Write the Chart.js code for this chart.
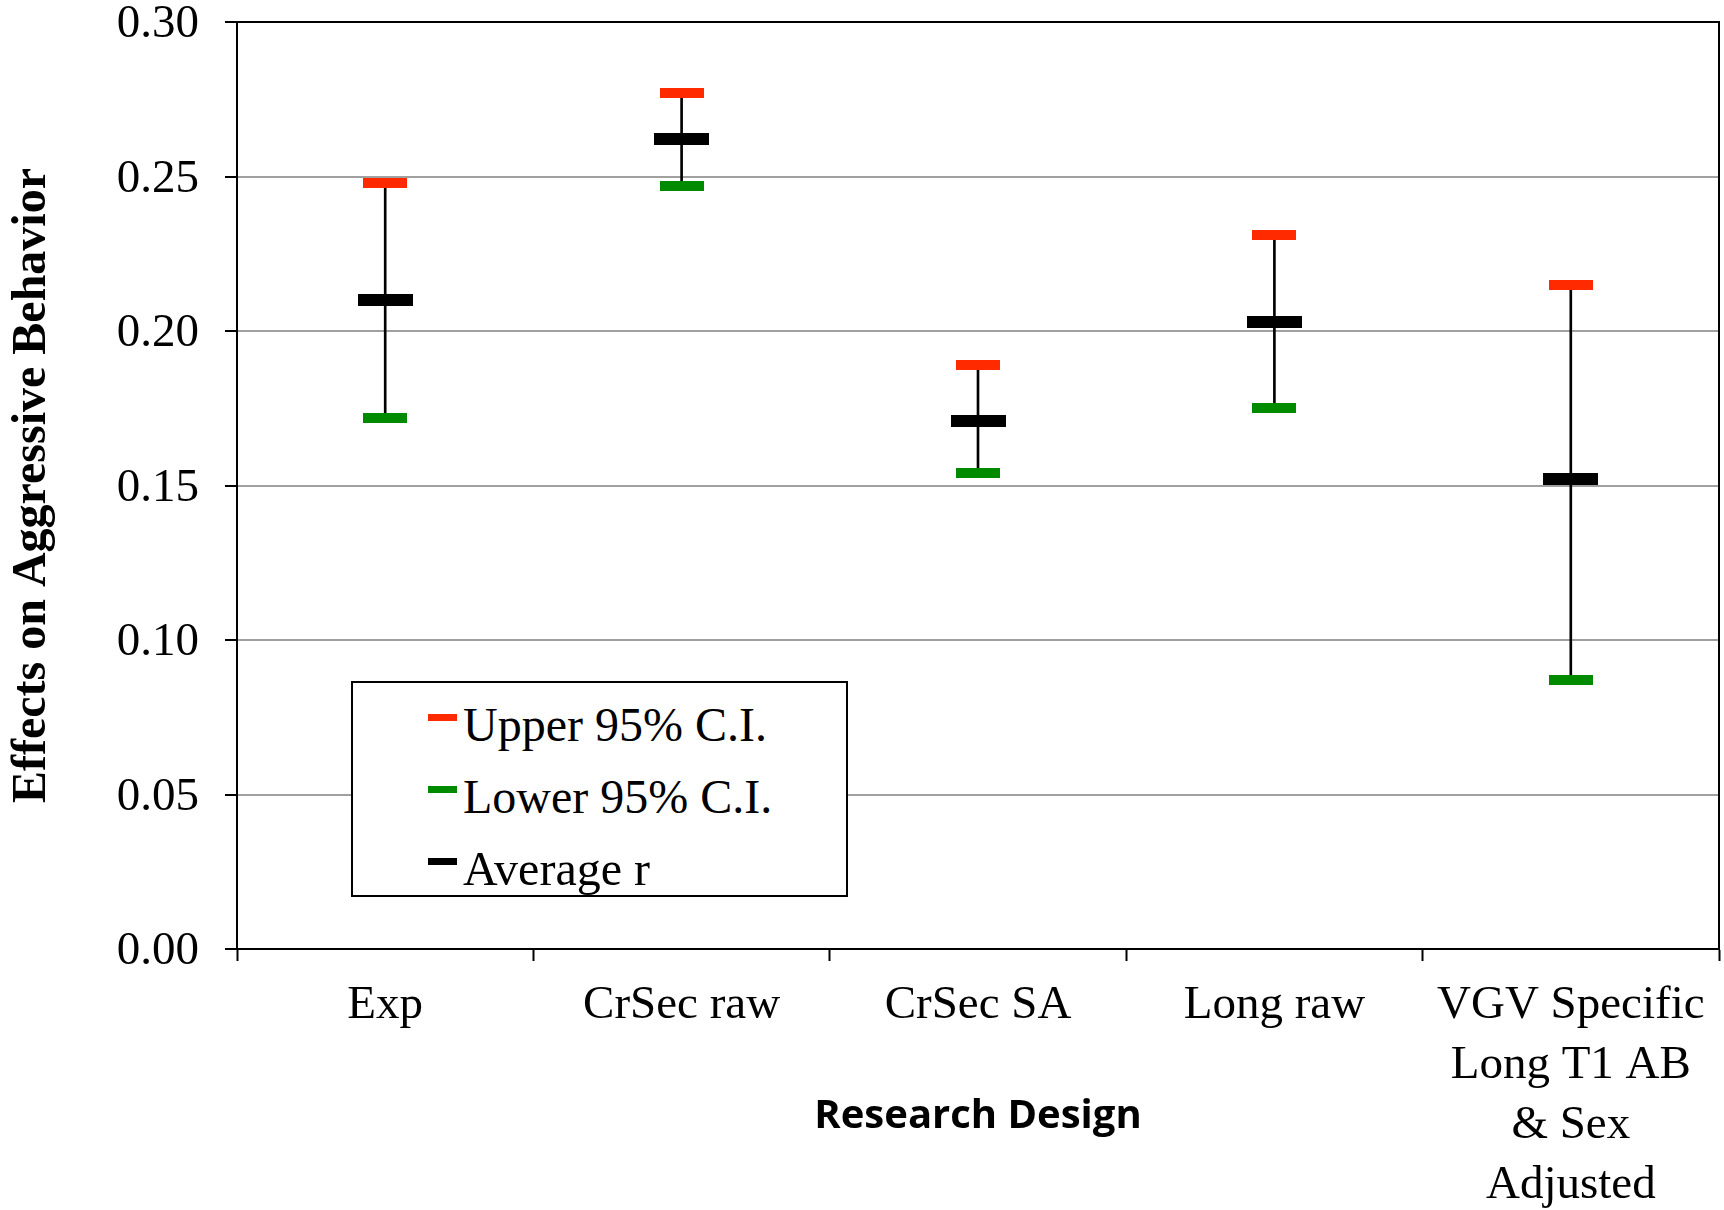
<!DOCTYPE html>
<html>
<head>
<meta charset="utf-8">
<script src="https://cdn.jsdelivr.net/npm/chart.js@4"></script>
<style>
  body { margin: 0; background: #fff; }
  #wrap { position: relative; width: 1724px; height: 1210px; }
  #legend {
    position: absolute; left: 351px; top: 681px; width: 493px; height: 212px;
    border: 2px solid #000; background: #fff;
    font: 48px 'Liberation Serif', 'Times New Roman', serif; color: #000;
  }
  #legend .row { position: absolute; left: 75px; height: 72px; line-height: 72px; white-space: nowrap; }
  #legend .sw { position: absolute; left: 0; top: 25px; width: 29px; height: 7px; }
  #legend .txt { position: absolute; left: 35px; top: 0; }
</style>
</head>
<body>
<div id="wrap">
  <canvas id="chart" width="1724" height="1210"></canvas>
  <div id="legend"></div>
</div>
<script>
'use strict';

// categorias e valores
const categories = ['Exp', 'CrSec raw', 'CrSec SA', 'Long raw', ['VGV Specific', 'Long T1 AB', '& Sex', 'Adjusted']];
const upperCI = [0.248, 0.277, 0.189, 0.231, 0.215];
const lowerCI = [0.172, 0.247, 0.154, 0.175, 0.087];
const averageR = [0.210, 0.262, 0.171, 0.203, 0.152];
const seriesLabels = ['Upper 95% C.I.', 'Lower 95% C.I.', 'Average r'];
const seriesColors = ['#ff2a00', '#008a00', '#000000'];

const SERIF = "'Liberation Serif', 'Times New Roman', serif";

function markImg(w, h, color) {
  const c = document.createElement('canvas');
  c.width = w;
  c.height = h;
  const g = c.getContext('2d');
  g.fillStyle = color;
  g.fillRect(0, 0, w, h);
  return c;
}

const frame = {
  id: 'frame',
  afterDraw(chart) {
    const { ctx, chartArea: a } = chart;
    ctx.save();
    ctx.strokeStyle = '#000';
    ctx.lineWidth = 2;
    ctx.beginPath();
    ctx.moveTo(a.left, a.top);
    ctx.lineTo(a.right, a.top);
    ctx.lineTo(a.right, a.bottom);
    ctx.stroke();
    ctx.restore();
  }
};

const chart = new Chart(document.getElementById('chart'), {
  data: {
    labels: categories,
    datasets: [
      {
        type: 'line', label: seriesLabels[0], data: upperCI, showLine: false, order: 1,
        pointStyle: markImg(44, 10, seriesColors[0])
      },
      {
        type: 'line', label: seriesLabels[1], data: lowerCI, showLine: false, order: 1,
        pointStyle: markImg(44, 10, seriesColors[1])
      },
      {
        type: 'line', label: seriesLabels[2], data: averageR, showLine: false, order: 0,
        pointStyle: markImg(55, 12, seriesColors[2])
      },
      {
        type: 'bar', label: 'range', order: 5,
        data: lowerCI.map((lo, i) => [lo, upperCI[i]]),
        backgroundColor: '#000', barThickness: 2
      }
    ]
  },
  options: {
    responsive: false,
    animation: false,
    layout: { padding: { top: 22, right: 2, bottom: 0, left: 0 } },
    plugins: { legend: { display: false }, tooltip: { enabled: false } },
    scales: {
      x: {
        offset: true,
        grid: { offset: true, drawOnChartArea: false, tickLength: 12, tickColor: '#000', tickWidth: 2 },
        border: { color: '#000', width: 2 },
        ticks: {
          color: '#000', font: { family: SERIF, size: 47, lineHeight: '60px' },
          padding: 15, maxRotation: 0, minRotation: 0, autoSkip: false
        },
        title: {
          display: true, text: 'Research Design', color: '#000',
          font: { family: "'Open Sans', sans-serif", size: 40, weight: 'bold' },
          padding: { top: 0, bottom: 69 }
        },
        afterFit(scale) {
          scale.height = 261;
          scale.paddingLeft = 0;
          scale.paddingRight = 0;
        }
      },
      y: {
        min: 0, max: 0.3,
        grid: {
          color: (c) => (c.tick && Math.abs(c.tick.value - 0.3) < 1e-9 ? '#000' : '#a0a0a0'),
          lineWidth: 2, tickLength: 12, tickColor: '#000', tickWidth: 2
        },
        border: { color: '#000', width: 2 },
        ticks: {
          stepSize: 0.05, color: '#000', padding: 26, labelOffset: 3,
          font: { family: SERIF, size: 47, lineHeight: '40px' },
          callback: (v) => Number(v).toFixed(2)
        },
        title: {
          display: true, text: 'Effects on Aggressive Behavior', color: '#000',
          font: { family: SERIF, size: 48, weight: 'bold' },
          padding: { top: 4, bottom: 0 }
        },
        afterFit(scale) {
          scale.width = 237;
          scale.paddingTop = 0;
          scale.paddingBottom = 0;
        }
      }
    }
  },
  plugins: [frame]
});

// legenda em html, montada a partir dos mesmos rotulos e cores
const legendEl = document.getElementById('legend');
seriesLabels.forEach((lbl, i) => {
  const row = document.createElement('div');
  row.className = 'row';
  row.style.top = (6 + i * 72) + 'px';
  row.innerHTML = `<span class="sw" style="background:${seriesColors[i]}"></span><span class="txt">${lbl}</span>`;
  legendEl.appendChild(row);
});

window.CHART = chart;
</script>
</body>
</html>
